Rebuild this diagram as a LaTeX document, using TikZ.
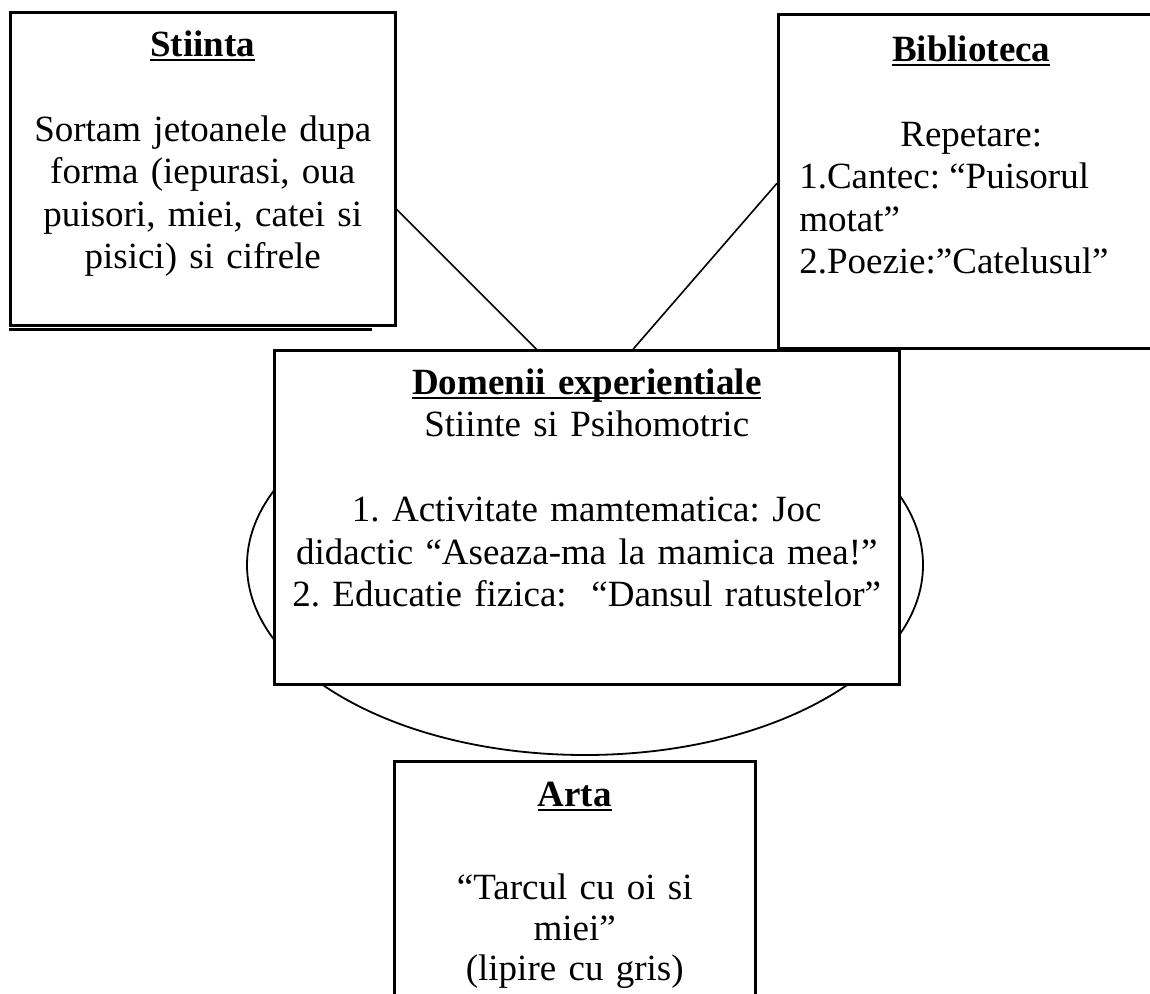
\documentclass[tikz,border=0pt]{standalone}
\usepackage{fontspec}
\setmainfont{Liberation Serif}
\usetikzlibrary{shapes.geometric,positioning,calc}
\frenchspacing
\newcommand{\heading}[1]{{\bfseries\setbox0\hbox{#1}\rlap{\rule[-5pt]{\wd0}{2pt}}\box0}}
\newcommand{\midline}[1]{\leavevmode\hbox to\hsize{\hss#1\hss}}

\begin{document}
\begin{tikzpicture}
[x=1pt,y=-1pt,
every node/.style={font=\fontsize{37}{42.5}\selectfont},
box/.style={draw,line width=2.5pt,fill=white,anchor=north west,align=center,
inner xsep=0pt,inner ysep=14pt},
oval/.style={draw,ellipse,line width=1.8pt,inner sep=0pt,minimum width=676pt,
minimum height=380pt},
edge/.style={line width=1.6pt},
rim/.style={line width=2.5pt}]
\useasboundingbox (0,0) rectangle (1150,993);

%% ellipse behind the middle box
\node[oval] (cerc) at (585,565) {};

\node[box,text width=625pt,text height=30pt,text depth=276pt] (domenii) at (273,349)
{\heading{Domenii experientiale}\\ Stiinte si Psihomotric\\[42.5pt]
1. Activitate mamtematica: Joc\\ didactic “Aseaza-ma la mamica mea!”\\
2. Educatie fizica:\ \ “Dansul ratustelor”};

\node[box,text width=385pt,text height=30pt,text depth=255pt] (stiinta) at (9,11)
{\heading{Stiinta}\\[42.5pt] Sortam jetoanele dupa\\ forma (iepurasi, oua\\
puisori, miei, catei si\\ pisici) si cifrele};
\draw[rim] ([yshift=-3pt]stiinta.south west) -- ([xshift=-25pt,yshift=-3pt]stiinta.south east);

\node[box,align=flush left,inner xsep=21pt,text width=344pt,text height=33pt,
text depth=273pt] (biblio) at (777,13)
{\midline{\heading{Biblioteca}}\\[42.5pt] \midline{Repetare:}\\
1.Cantec: “Puisorul\\ motat”\\ 2.Poezie:”Catelusul”};

\node[box,text width=361pt,text height=31pt,text depth=230pt] (arta) at (393,760)
{\heading{Arta}\\[51pt] “Tarcul cu oi si\\[-2pt] miei”\\[-2pt] (lipire cu gris)};

%% links to the middle box
\draw[edge] ([yshift=-40.5pt]stiinta.east) -- ([xshift=-50.5pt]domenii.north);
\draw[edge] ([yshift=-2pt]biblio.west) -- ([xshift=46.5pt]domenii.north);

\end{tikzpicture}
\end{document}
